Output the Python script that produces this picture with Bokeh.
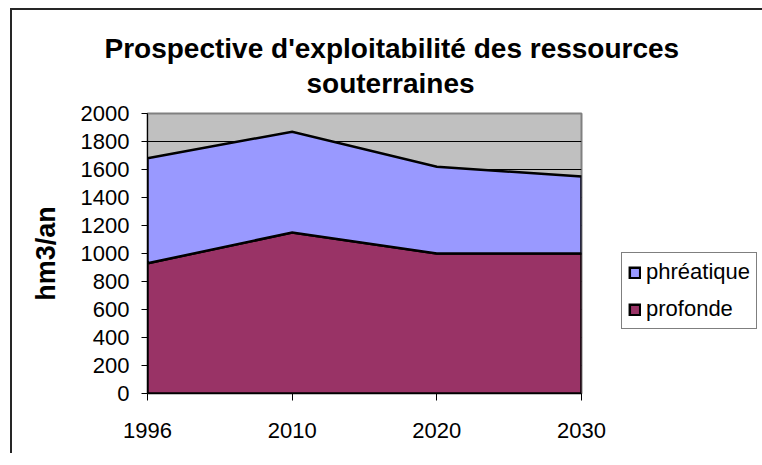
import numpy as np
from bokeh.plotting import figure
from bokeh.models import Range1d, FixedTicker, Legend, LegendItem, Title
from bokeh.embed import file_html
from bokeh.resources import INLINE

# ---- data ----
years = ["1996", "2010", "2020", "2030"]
profonde = [930, 1150, 1000, 1000]
phreatique = [750, 720, 620, 550]
y_ticks = list(range(0, 2001, 200))
title_lines = ["Prospective d'exploitabilité des ressources", "souterraines"]
y_label = "hm3/an"

FONT = "Liberation Sans"

x = np.arange(len(years), dtype=float)
prof = np.array(profonde, dtype=float)
tot = prof + np.array(phreatique, dtype=float)
zero = np.zeros_like(prof)
xs = np.concatenate([x, x[::-1]])

p = figure(frame_width=434, frame_height=280, output_backend="svg", toolbar_location=None,
           x_range=Range1d(0, len(years) - 1), y_range=Range1d(0, 2000),
           min_border_left=147, min_border_right=177,
           min_border_top=113, min_border_bottom=60)
# chart-area border (left and top edges) drawn behind a transparent border fill
p.styles = {
    "background-image": "linear-gradient(#262626, #262626), linear-gradient(#262626, #262626)",
    "background-position": "10px 8px, 10px 8px",
    "background-size": "2px 100%, 100% 2px",
    "background-repeat": "no-repeat",
    "border": "0",
    "outline": "0",
    "box-shadow": "none",
}
p.border_fill_alpha = 0

p.background_fill_color = "#C0C0C0"
p.outline_line_color = "#808080"
p.outline_line_width = 2

r_prof = p.patch(xs, np.concatenate([prof, zero[::-1]]), fill_color="#993366",
                 line_color="black", line_width=2.5, line_join="miter")
r_phr = p.patch(xs, np.concatenate([tot, prof[::-1]]), fill_color="#9999FF",
                line_color="black", line_width=2.5, line_join="miter")

# axes
p.xaxis.ticker = FixedTicker(ticks=list(x))
p.xaxis.major_label_overrides = {float(i): years[i] for i in range(len(years))}
p.yaxis.ticker = FixedTicker(ticks=y_ticks)
for ax in (p.xaxis[0], p.yaxis[0]):
    ax.axis_line_color = "black"
    ax.axis_line_width = 1
    ax.major_tick_line_color = "black"
    ax.minor_tick_line_color = None
    ax.major_tick_in = 0
    ax.major_label_text_font = FONT
    ax.major_label_text_font_size = "22px"
    ax.major_label_text_color = "black"
p.xaxis.major_tick_out = 7
p.xaxis.major_label_standoff = 22
p.yaxis.major_tick_out = 6
p.yaxis.major_label_standoff = 12
p.yaxis.axis_label = y_label
p.yaxis.axis_label_text_font = FONT
p.yaxis.axis_label_text_font_size = "27px"
p.yaxis.axis_label_text_font_style = "bold"
p.yaxis.axis_label_text_color = "black"
p.yaxis.axis_label_standoff = 17

p.xgrid.visible = False
p.ygrid.ticker = FixedTicker(ticks=y_ticks)
p.ygrid.grid_line_color = "black"
p.ygrid.grid_line_width = 1

# title: two lines (p.title sits farthest from the frame)
title_style = dict(text_font=FONT, text_font_size="28px", text_font_style="bold",
                   text_color="black", align="left", vertical_align="bottom")
p.title = Title(text=title_lines[0], offset=-43, standoff=-25, **title_style)
p.add_layout(Title(text=title_lines[1], offset=159, standoff=29, **title_style), "above")

legend = Legend(items=[LegendItem(label="phréatique", renderers=[r_phr]),
                       LegendItem(label="profonde", renderers=[r_prof])],
                location=(40, 64), orientation="vertical",
                label_text_font=FONT, label_text_font_size="22px",
                label_text_color="black",
                glyph_width=13, glyph_height=13, label_standoff=5,
                label_height=24, spacing=11, padding=6, margin=0,
                border_line_color="black", border_line_width=1,
                background_fill_color="white", background_fill_alpha=1)
p.add_layout(legend, "right")

open("out.html", "w").write(file_html(p, INLINE))
